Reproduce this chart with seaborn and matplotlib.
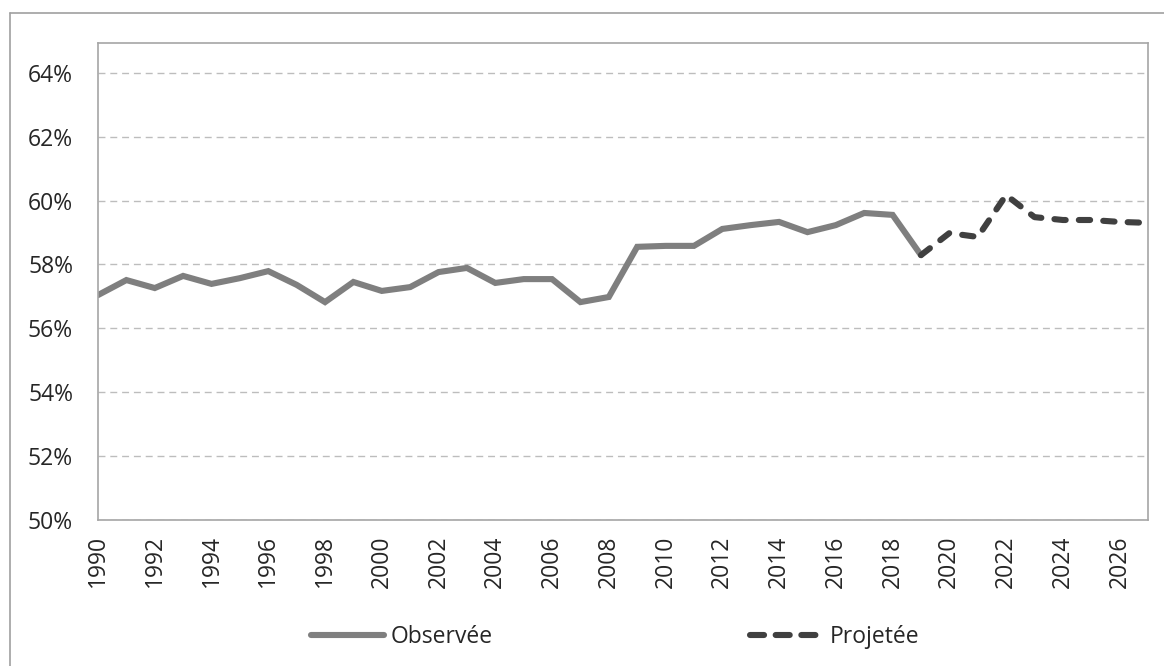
import pandas as pd
import matplotlib.pyplot as plt
import seaborn as sns
from matplotlib.lines import Line2D

# observed series (share, %)
annees_obs = list(range(1990, 2020))
taux_obs = [57.04, 57.51, 57.26, 57.64, 57.39, 57.57, 57.79, 57.36, 56.82, 57.45,
            57.17, 57.29, 57.76, 57.89, 57.42, 57.54, 57.54, 56.82, 56.98, 58.55,
            58.58, 58.58, 59.11, 59.23, 59.33, 59.01, 59.23, 59.61, 59.55, 58.29]

# projected series
annees_proj = list(range(2019, 2028))
taux_proj = [58.29, 58.98, 58.86, 60.17, 59.48, 59.39, 59.39, 59.33, 59.30]

y_ticks = [50, 52, 54, 56, 58, 60, 62, 64]
y_labels = ['50%', '52%', '54%', '56%', '58%', '60%', '62%', '64%']
x_ticks = list(range(1990, 2028))
x_labels = [str(a) if a % 2 == 0 else '' for a in x_ticks]

df_obs = pd.DataFrame({'annee': annees_obs, 'taux': taux_obs})
df_proj = pd.DataFrame({'annee': annees_proj, 'taux': taux_proj})

sns.set_style('white')
plt.rcParams['font.family'] = ['Open Sans', 'DejaVu Sans']
txt = '#262626'
c_obs = '#7f7f7f'
c_proj = '#404040'

fig = plt.figure(figsize=(11.64, 6.66), dpi=100)
ax = fig.add_axes([98 / 1164, 1 - 520 / 666, (1148 - 98) / 1164, (520 - 43) / 666])

sns.lineplot(data=df_obs, x='annee', y='taux', ax=ax, color=c_obs,
             linewidth=4.4, solid_capstyle='round', solid_joinstyle='miter')
sns.lineplot(data=df_proj, x='annee', y='taux', ax=ax, color=c_proj,
             linewidth=4.4, linestyle=(0, (1.85, 2.15)), dash_capstyle='round')

ax.set_xlim(1990, 2027)
ax.set_ylim(50, 64.93)
ax.set_yticks(y_ticks)
ax.set_yticklabels(y_labels)
ax.set_xticks(x_ticks)
ax.set_xticklabels(x_labels, rotation=90)
ax.set_xlabel('')
ax.set_ylabel('')

ax.yaxis.grid(True, color='#bdbdbd', linewidth=1, linestyle=(0, (5, 3.5)))
ax.xaxis.grid(False)
ax.set_axisbelow(True)
for s in ax.spines.values():
    s.set_color('#a6a6a6')
    s.set_linewidth(1.2)

ax.tick_params(axis='both', direction='out', length=6, width=1, color='#a6a6a6',
               labelsize=16.5, labelcolor=txt)
ax.tick_params(axis='y', pad=12)
ax.tick_params(axis='x', pad=5)

handles = [
    Line2D([], [], color=c_obs, linewidth=4.4, solid_capstyle='round'),
    Line2D([], [], color=c_proj, linewidth=4.4, linestyle=(0, (2.3, 1.9)),
           dash_capstyle='round'),
]
ax.legend(handles, ['Observée', 'Projetée'], loc='center',
          bbox_to_anchor=(615 / 1164, 1 - 637 / 666),
          bbox_transform=fig.transFigure, ncol=2, frameon=False,
          fontsize=16.5, handlelength=3.2, handletextpad=0.3,
          columnspacing=11.2, labelcolor=txt)

# outer chart frame (partially cropped)
fig.add_artist(Line2D([10 / 1164, 1], [1 - 13 / 666, 1 - 13 / 666],
                      transform=fig.transFigure, color='#a0a0a0', linewidth=1.2))
fig.add_artist(Line2D([10 / 1164, 10 / 1164], [0, 1 - 13 / 666],
                      transform=fig.transFigure, color='#a0a0a0', linewidth=1.2))

fig.savefig('out.png', dpi=100)
